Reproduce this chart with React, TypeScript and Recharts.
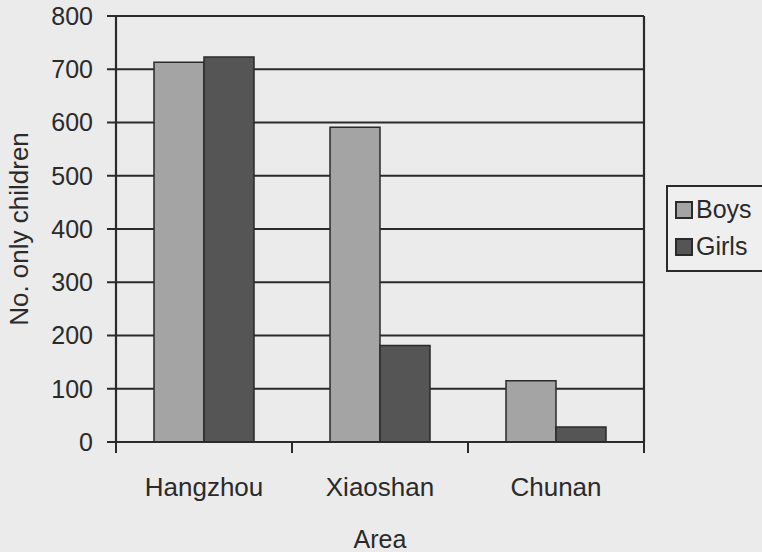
import { Bar, BarChart, CartesianGrid, Legend, XAxis, YAxis } from 'recharts'

const areas = ['Hangzhou', 'Xiaoshan', 'Chunan']
const boys = [713, 591, 115]
const girls = [723, 181, 28]
const yTicks = [0, 100, 200, 300, 400, 500, 600, 700, 800]

const seriesMeta = [
  { key: 'boys', label: 'Boys', fill: '#a4a4a4' },
  { key: 'girls', label: 'Girls', fill: '#555555' },
]

const W = 762
const H = 552
const PLOT_LEFT = 116
const PLOT_RIGHT = 644
const INK = '#2a2a2a'
const FONT = '"Liberation Sans", Arial, sans-serif'

const rows = areas.map((area, i) => ({ area, boys: boys[i], girls: girls[i] }))
const band = (PLOT_RIGHT - PLOT_LEFT) / areas.length

function AreaTick(props: any) {
  const { x, y, payload, index } = props
  const last = index === areas.length - 1
  return (
    <g>
      <line x1={x - band / 2} x2={x - band / 2} y1={y} y2={y + 11} stroke={INK} strokeWidth={2} />
      {last && <line x1={x + band / 2} x2={x + band / 2} y1={y} y2={y + 11} stroke={INK} strokeWidth={2} />}
      <text x={x} y={y + 36} dy="0.71em" textAnchor="middle" fill={INK} fontSize={26} fontFamily={FONT}>
        {payload.value}
      </text>
    </g>
  )
}

function LegendBox() {
  return (
    <div
      style={{
        boxSizing: 'border-box',
        borderTop: `2px solid ${INK}`,
        borderBottom: `2px solid ${INK}`,
        borderLeft: `2px solid ${INK}`,
        width: 200,
        padding: '4px 0 5px 7px',
        fontFamily: FONT,
        fontSize: 25,
        color: INK,
        background: '#efefef',
        whiteSpace: 'nowrap',
      }}
    >
      {seriesMeta.map((s) => (
        <div key={s.key} style={{ display: 'flex', alignItems: 'center', height: 37 }}>
          <span
            style={{
              display: 'inline-block',
              width: 14,
              height: 14,
              border: `2px solid ${INK}`,
              background: s.fill,
              marginRight: 3,
            }}
          />
          <span>{s.label}</span>
        </div>
      ))}
    </div>
  )
}

export default function App() {
  return (
    <div style={{ position: 'absolute', left: 0, top: 0, width: W, height: H, background: '#ebebeb', overflow: 'hidden' }}>
      <BarChart
        width={W}
        height={H}
        data={rows}
        margin={{ top: 16, right: W - PLOT_RIGHT - 1, bottom: 0, left: 0 }}
        barGap={0}
        barSize={50}
      >
        <CartesianGrid vertical={false} stroke={INK} strokeWidth={2.2} />
        <XAxis
          dataKey="area"
          height={110}
          axisLine={{ stroke: INK, strokeWidth: 2.2 }}
          tickLine={false}
          tickSize={0}
          tickMargin={0}
          tick={<AreaTick />}
          label={{ value: 'Area', position: 'insideBottom', offset: 4, fill: INK, fontSize: 25, fontFamily: FONT }}
        />
        <YAxis
          width={PLOT_LEFT}
          domain={[0, 800]}
          ticks={yTicks}
          interval={0}
          axisLine={{ stroke: INK, strokeWidth: 2.2 }}
          tickLine={{ stroke: INK, strokeWidth: 2 }}
          tickSize={9}
          tickMargin={14}
          tick={{ fill: INK, fontSize: 25, fontFamily: FONT }}
          label={{
            value: 'No.  only children',
            angle: -90,
            position: 'insideLeft',
            offset: 19,
            style: { textAnchor: 'middle' },
            fill: INK,
            fontSize: 26,
            fontFamily: FONT,
          }}
        />
        <YAxis
          yAxisId="frame"
          orientation="right"
          width={1}
          domain={[0, 800]}
          tick={false}
          tickLine={false}
          axisLine={{ stroke: INK, strokeWidth: 2.2 }}
        />
        <Legend
          layout="vertical"
          align="center"
          verticalAlign="middle"
          content={<LegendBox />}
          wrapperStyle={{ left: 666, top: 185, width: 200, right: 'auto' }}
        />
        {seriesMeta.map((s) => (
          <Bar
            key={s.key}
            dataKey={s.key}
            name={s.label}
            fill={s.fill}
            stroke={INK}
            strokeWidth={1.5}
            isAnimationActive={false}
          />
        ))}
      </BarChart>
    </div>
  )
}
